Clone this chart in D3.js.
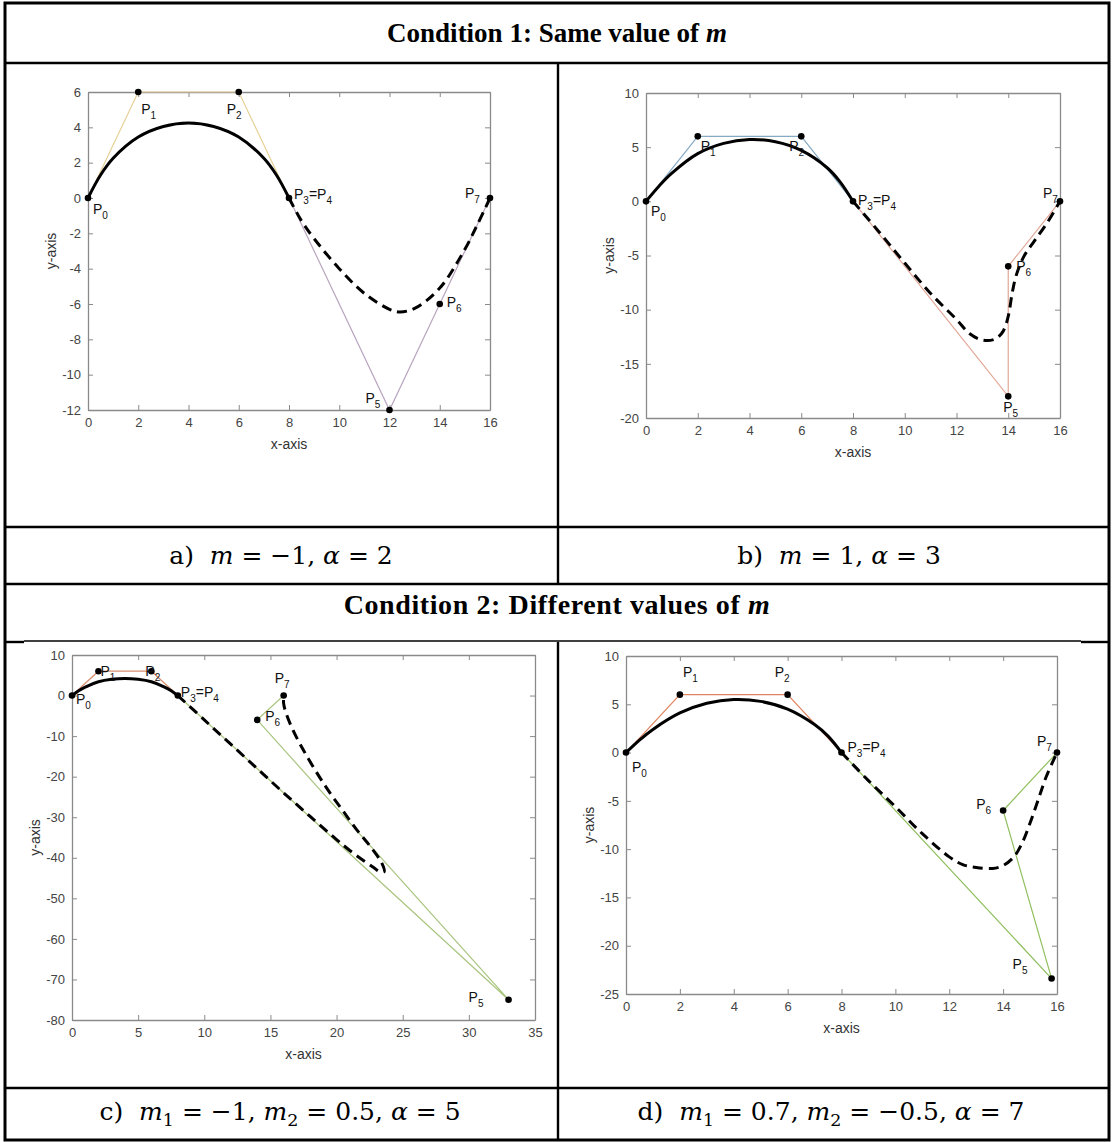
<!DOCTYPE html>
<html>
<head>
<meta charset="utf-8">
<script src="https://cdn.jsdelivr.net/npm/d3@7"></script>
<style>
  body { margin: 0; background: #fff; }
  text { white-space: pre; }
</style>
</head>
<body>
<svg id="fig" width="1113" height="1142"></svg>
<script>
// ---- data ----
// control points P0..P7 (P3 = P4, stored once)
var ctrlA = [[0,0],[2,6],[6,6],[8,0],[12,-12],[14,-6],[16,0]];
var ctrlB = [[0,0],[2,6],[6,6],[8,0],[14,-18],[14,-6],[16,0]];
var ctrlC = [[0,0],[2,6],[6,6],[8,0],[33,-75],[14,-6],[16,0]];
var ctrlD = [[0,0],[2,6],[6,6],[8,0],[15.8,-23.4],[14,-6],[16,0]];

// first curve piece (solid), P0..P3
var solidA = [[0,0],[0.5,1.3],[1,2.25],[2,3.45],[3,4.05],[4,4.25],[5,4.05],[6,3.45],[7,2.25],[7.5,1.3],[8,0]];
var solidB = [[0,0],[0.5,1.4],[1,2.6],[2,4.4],[3,5.35],[4,5.7],[5,5.5],[6,4.7],[7,3.1],[7.5,1.8],[8,0]];
var solidC = [[0,0],[0.5,1.2],[1,2.1],[2,3.4],[3,4.0],[4,4.2],[5,4.0],[6,3.4],[7,2.1],[7.5,1.2],[8,0]];
var solidD = [[0,0],[0.5,1.3],[1,2.4],[2,4.1],[3,5.1],[4,5.5],[5,5.3],[6,4.5],[7,2.9],[7.5,1.7],[8,0]];

// second curve piece (dashed), P4..P7
var dashA = [[8,0],[8.5,-1.3],[9,-2.3],[10,-4.0],[11,-5.4],[12,-6.3],[12.4,-6.45],[13,-6.25],[14,-5.1],[15,-2.9],[15.5,-1.5],[16,0]];
var dashB = [[8,0],[9,-2.8],[10,-5.7],[11,-8.5],[12,-10.9],[12.5,-12.2],[13,-12.8],[13.5,-12.7],[13.8,-12.0],[14,-10.6],[14.15,-8.5],[14.3,-6.9],[14.6,-5.1],[15,-3.7],[15.5,-2.0],[16,0]];
var dashC = [[8,0],[10,-6],[12,-12],[14,-18],[16,-24],[18,-29.8],[20,-35.5],[21,-38.2],[22,-40.6],[22.8,-42.4],[23.3,-43.5],[23.6,-43.4],[23.4,-41.2],[22.5,-37],[21.5,-33],[20.5,-28.5],[19.5,-24],[18.5,-19],[17.5,-13.5],[16.7,-8.5],[16.2,-4.5],[16,-2],[16,0]];
var dashD = [[8,0],[9,-2.9],[10,-5.6],[11,-8.4],[12,-10.8],[12.5,-11.6],[13,-11.9],[13.6,-12.0],[14,-11.7],[14.4,-10.8],[14.7,-9.4],[15,-7.3],[15.3,-4.9],[15.6,-2.5],[16,0]];

// axis ticks
var xTicksA = [0,2,4,6,8,10,12,14,16],  yTicksA = [-12,-10,-8,-6,-4,-2,0,2,4,6];
var xTicksB = [0,2,4,6,8,10,12,14,16],  yTicksB = [-20,-15,-10,-5,0,5,10];
var xTicksC = [0,5,10,15,20,25,30,35],  yTicksC = [-80,-70,-60,-50,-40,-30,-20,-10,0,10];
var xTicksD = [0,2,4,6,8,10,12,14,16],  yTicksD = [-25,-20,-15,-10,-5,0,5,10];

var pointNames = ["P0","P1","P2","P3=P4","P5","P6","P7"];

// header / caption text ([text, style] pieces; i = italic, s = subscript)
var title1 = [["Condition 1: Same value of ",""],["m","i"]];
var title2 = [["Condition 2: Different values of ",""],["m","i"]];
var capA = [["a)  ",""],["m","i"],[" = \u22121, ",""],["\u03b1","i"],[" = 2",""]];
var capB = [["b)  ",""],["m","i"],[" = 1, ",""],["\u03b1","i"],[" = 3",""]];
var capC = [["c)  ",""],["m","i"],["1","s"],[" = \u22121, ",""],["m","i"],["2","s"],[" = 0.5, ",""],["\u03b1","i"],[" = 5",""]];
var capD = [["d)  ",""],["m","i"],["1","s"],[" = 0.7, ",""],["m","i"],["2","s"],[" = \u22120.5, ",""],["\u03b1","i"],[" = 7",""]];

// ---- layout ----
var svg = d3.select("#fig");
svg.append("rect").attr("width",1113).attr("height",1142).attr("fill","#fff");

var serif = "'Liberation Serif','Times New Roman',serif";
var mathSerif = "'DejaVu Serif','Liberation Serif',serif";
var sans = "'Liberation Sans',Arial,sans-serif";

var panels = [
  {ctrl: ctrlA, solid: solidA, dash: dashA, xt: xTicksA, yt: yTicksA,
   box: {l: 88, r: 490, t: 92, b: 410}, c1: "#e6d096", c2: "#b9a5bf",
   lab: [[5,16],[3,22],[-12,22],[5,1],[-24,-7],[7,3],[-25,0]]},
  {ctrl: ctrlB, solid: solidB, dash: dashB, xt: xTicksB, yt: yTicksB,
   box: {l: 646, r: 1060, t: 93, b: 418}, c1: "#86aac4", c2: "#e2a898",
   lab: [[5,15],[3,15],[-12,15],[5,4],[-5,16],[8,5],[-17,-3]]},
  {ctrl: ctrlC, solid: solidC, dash: dashC, xt: xTicksC, yt: yTicksC,
   box: {l: 72, r: 535, t: 655, b: 1020}, c1: "#d98f70", c2: "#a9c57f",
   lab: [[4,8],[2,5],[-6,5],[3,1],[-40,2],[8,1],[-9,-13]]},
  {ctrl: ctrlD, solid: solidD, dash: dashD, xt: xTicksD, yt: yTicksD,
   box: {l: 626, r: 1057, t: 656, b: 994}, c1: "#e0845f", c2: "#8fbf5e",
   lab: [[6,19],[3,-18],[-13,-18],[6,-1],[-39,-10],[-27,-2],[-20,-7]]}
];

var fmt = function(d) { return String(d); };

function styleAxis(g) {
  g.attr("font-family", sans).attr("font-size", 13);
  g.select(".domain").attr("stroke", "#8a8a8a").attr("stroke-width", 1.3);
  g.selectAll(".tick line").attr("stroke", "#8a8a8a").attr("stroke-width", 1);
  g.selectAll(".tick text").attr("fill", "#444");
}

function addPointLabel(g, name, px, py) {
  var t = g.append("text").attr("x", px).attr("y", py)
    .attr("font-family", sans).attr("font-size", 14).attr("fill", "#111");
  name.split("=").forEach(function(part, i) {
    if (i > 0) t.append("tspan").attr("dy", -5).text("=");
    t.append("tspan").text("P");
    t.append("tspan").attr("font-size", 10).attr("dy", 5).text(part.slice(1));
  });
}

panels.forEach(function(p) {
  var x = d3.scaleLinear().domain([p.xt[0], p.xt[p.xt.length-1]]).range([p.box.l, p.box.r]);
  var y = d3.scaleLinear().domain([p.yt[0], p.yt[p.yt.length-1]]).range([p.box.b, p.box.t]);
  var g = svg.append("g");

  // box with inward ticks on all four sides
  g.append("g").attr("transform", "translate(0," + p.box.b + ")")
    .call(d3.axisBottom(x).tickValues(p.xt).tickSizeInner(-5).tickSizeOuter(0).tickPadding(8).tickFormat(fmt))
    .call(styleAxis);
  g.append("g").attr("transform", "translate(0," + p.box.t + ")")
    .call(d3.axisTop(x).tickValues(p.xt).tickSizeInner(-5).tickSizeOuter(0).tickFormat(""))
    .call(styleAxis);
  g.append("g").attr("transform", "translate(" + p.box.l + ",0)")
    .call(d3.axisLeft(y).tickValues(p.yt).tickSizeInner(-5).tickSizeOuter(0).tickPadding(7).tickFormat(fmt))
    .call(styleAxis);
  g.append("g").attr("transform", "translate(" + p.box.r + ",0)")
    .call(d3.axisRight(y).tickValues(p.yt).tickSizeInner(-5).tickSizeOuter(0).tickFormat(""))
    .call(styleAxis);

  // axis titles
  g.append("text").attr("x", (p.box.l + p.box.r) / 2).attr("y", p.box.b + 39)
    .attr("text-anchor", "middle").attr("font-family", sans).attr("font-size", 14)
    .attr("fill", "#333").text("x-axis");
  g.append("text")
    .attr("transform", "translate(" + (p.box.l - 32) + "," + (p.box.t + p.box.b) / 2 + ") rotate(-90)")
    .attr("text-anchor", "middle").attr("font-family", sans).attr("font-size", 14)
    .attr("fill", "#333").text("y-axis");

  var poly = d3.line().x(function(d) { return x(d[0]); }).y(function(d) { return y(d[1]); });
  var smooth = d3.line().curve(d3.curveCatmullRom.alpha(0.5))
    .x(function(d) { return x(d[0]); }).y(function(d) { return y(d[1]); });

  // control polygons
  g.append("path").attr("d", poly(p.ctrl.slice(0, 4))).attr("fill", "none")
    .attr("stroke", p.c1).attr("stroke-width", 1.2);
  g.append("path").attr("d", poly(p.ctrl.slice(3))).attr("fill", "none")
    .attr("stroke", p.c2).attr("stroke-width", 1.2);

  // curves
  g.append("path").attr("d", smooth(p.solid)).attr("fill", "none")
    .attr("stroke", "#000").attr("stroke-width", 3);
  g.append("path").attr("d", smooth(p.dash)).attr("fill", "none")
    .attr("stroke", "#000").attr("stroke-width", 3).attr("stroke-dasharray", "10,6");

  // control points + labels
  g.selectAll("circle").data(p.ctrl).enter().append("circle")
    .attr("cx", function(d) { return x(d[0]); }).attr("cy", function(d) { return y(d[1]); })
    .attr("r", 3.3).attr("fill", "#000");
  p.ctrl.forEach(function(d, i) {
    addPointLabel(g, pointNames[i], x(d[0]) + p.lab[i][0], y(d[1]) + p.lab[i][1]);
  });
});

// ---- table frame ----
function hline(x1, x2, yy, w) {
  svg.append("line").attr("x1", x1).attr("x2", x2).attr("y1", yy).attr("y2", yy)
    .attr("stroke", "#000").attr("stroke-width", w);
}
function vline(xx, y1, y2, w) {
  svg.append("line").attr("x1", xx).attr("x2", xx).attr("y1", y1).attr("y2", y2)
    .attr("stroke", "#000").attr("stroke-width", w);
}
svg.append("rect").attr("x", 5).attr("y", 3).attr("width", 1104).attr("height", 1137)
  .attr("fill", "none").attr("stroke", "#000").attr("stroke-width", 3);
hline(5, 1109, 63, 2.4);
hline(5, 1109, 527, 2.4);
hline(5, 1109, 584, 2.4);
hline(5, 24, 642, 2.4);
hline(24, 1081, 641, 1.3);
hline(1081, 1109, 642, 2.4);
hline(5, 1109, 1088, 2.4);
vline(558, 63, 584, 2.4);
vline(558, 642, 1140, 2.4);

// ---- header and caption text ----
// mixed roman / italic / subscript text, centred on (cx, cy)
function richText(pieces, cx, cy, size, bold, family) {
  var t = svg.append("text").attr("x", cx).attr("y", cy)
    .attr("text-anchor", "middle").attr("font-family", family)
    .attr("font-size", size).attr("font-weight", bold ? "bold" : "normal").attr("fill", "#000");
  var down = false;
  pieces.forEach(function(pc) {
    var s = t.append("tspan").text(pc[0]);
    if (pc[1] === "i") s.attr("font-style", "italic");
    if (pc[1] === "s") { s.attr("font-size", size * 0.7).attr("dy", size * 0.25); down = true; }
    else if (down) { s.attr("dy", -size * 0.25); down = false; }
  });
  return t;
}
richText(title1, 557, 42, 27, true, serif);
richText(title2, 557, 614, 28, true, serif).attr("letter-spacing", 0.6);
richText(capA, 281, 564, 25, false, mathSerif);
richText(capB, 839, 564, 25, false, mathSerif);
richText(capC, 280, 1120, 25, false, mathSerif);
richText(capD, 831, 1120, 25, false, mathSerif);
</script>
</body>
</html>
